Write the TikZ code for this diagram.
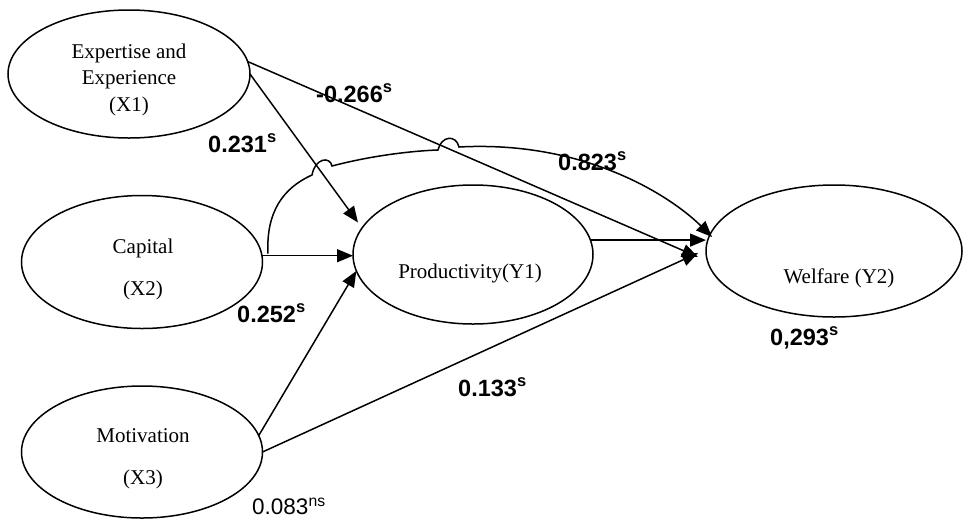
\documentclass[tikz,border=0pt]{standalone}
\usepackage{fontspec}
\setmainfont{Liberation Serif}
\newfontfamily\arialf{Liberation Sans}
\usetikzlibrary{arrows.meta,shapes.geometric}
\begin{document}
\begin{tikzpicture}[x=1pt,y=-1pt,
  ell/.style={draw,ellipse,line width=1.5pt,inner sep=0pt,outer sep=0pt},
  lbl/.style={font=\fontsize{21}{24}\selectfont,anchor=base,inner sep=0pt},
  coef/.style={font=\arialf\bfseries\fontsize{23.5}{26}\selectfont,anchor=base west,inner sep=0pt},
  coefn/.style={font=\arialf\fontsize{22.5}{26}\selectfont,anchor=base west,inner sep=0pt},
  conn/.style={line width=1.5pt,-{Triangle[length=16pt,width=13pt]}},
  curv/.style={line width=1.5pt}
]
\useasboundingbox (0,0) rectangle (963,520);

% ellipses
\node[ell,minimum width=242pt,minimum height=128pt] (x1) at (129,74) {};
\node[ell,minimum width=241pt,minimum height=133pt] (x2) at (142,262) {};
\node[ell,minimum width=241pt,minimum height=132pt] (x3) at (142,452) {};
\node[ell,minimum width=240pt,minimum height=139pt] (y1) at (473,254.5) {};
\node[ell,minimum width=256pt,minimum height=132pt] (y2) at (834,251) {};

% texts
\node[lbl] (x1a) at (129,58) {Expertise and};
\node[lbl] (x1b) at (129,84) {Experience};
\node[lbl] (x1c) at (129,111) {(X1)};
\node[lbl] (x2a) at (143,253) {Capital};
\node[lbl] (x2b) at (143,295) {(X2)};
\node[lbl] (x3a) at (143,442) {Motivation};
\node[lbl] (x3b) at (143,484) {(X3)};
\node[lbl] (y1a) at (470,278) {Productivity(Y1)};
\node[lbl] (y2a) at (839,283) {Welfare (Y2)};

% helper coordinates
\coordinate (y1tipA) at ([xshift=5pt,yshift=32pt]y1.west);
\coordinate (y2tipA) at ([xshift=-8pt,yshift=-6pt]y2.west);
\coordinate (y2tipB) at ([xshift=-8pt,yshift=-2pt]y2.west);
\coordinate (cs) at ([xshift=6pt,yshift=2pt]x2.3);
\coordinate (ce) at ([xshift=6pt,yshift=14pt]y2.west);

% straight connectors
\draw[conn] (x1.6) -- (y2tipA);
\draw[conn] (x1.east) -- (y1tipA);
\draw[conn] (x2.3) -- (x2.3 -| y1.west);
\draw[conn] (x3.8) -- (y1.-172);
\draw[conn] (x3.east) -- (y2tipB);
\draw[conn] (y1.7) -- (y1.7 -| y2.west);

% curved connector X2 -> Y2 with two line hops
\draw[curv,-{Triangle[length=16pt,width=13pt]}] (cs)
  .. controls (266,212) and (283,188) .. (312,175)
  .. controls (315,158) and (330,156) .. (332,166)
  .. controls (370,156) and (410,151) .. (438,150)
  .. controls (441,136) and (456,134) .. (459,147)
  .. controls (590,140) and (675,200) .. (ce);

% coefficients
\node[coef] (c1) at (316,102) {-0.266\textsuperscript{s}};
\node[coef] (c2) at (208,152) {0.231\textsuperscript{s}};
\node[coef] (c3) at (558,170) {0.823\textsuperscript{s}};
\node[coef] (c4) at (237,322) {0.252\textsuperscript{s}};
\node[coef] (c5) at (458,396) {0.133\textsuperscript{s}};
\node[coef] (c6) at (770,345) {0,293\textsuperscript{s}};
\node[coefn] (c7) at (252,514) {0.083\textsuperscript{ns}};
\end{tikzpicture}
\end{document}
